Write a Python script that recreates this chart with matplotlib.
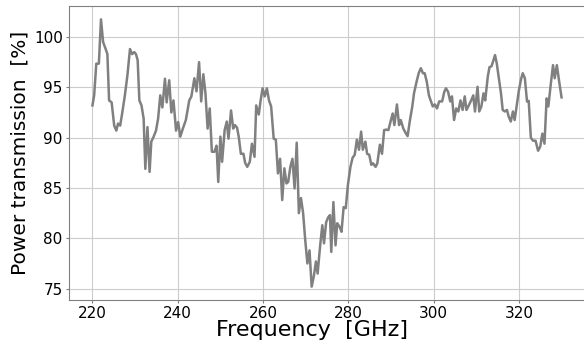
import matplotlib
matplotlib.use("Agg")
import matplotlib.pyplot as plt

# frequency [GHz] and transmission [%]
freq = [220.0, 220.4, 220.9, 221.5, 222.0, 222.5, 223.1, 223.5, 223.9, 224.5,
        225.1, 225.6, 226.0, 226.5, 227.0, 227.6, 228.2, 228.8, 229.3, 229.8,
        230.2, 230.6, 231.0, 231.5, 232.0, 232.4, 232.9, 233.4, 233.8, 234.3,
        234.9, 235.4, 235.9, 236.4, 237.0, 237.4, 238.0, 238.5, 239.0, 239.6,
        240.1, 240.6, 241.2, 241.9, 242.7, 243.2, 243.9, 244.4, 245.0, 245.5,
        246.0, 246.5, 247.0, 247.5, 248.0, 248.6, 249.1, 249.5, 250.0, 250.4,
        251.0, 251.5, 251.9, 252.5, 253.0, 253.4, 253.9, 254.3, 254.8, 255.4,
        255.8, 256.3, 256.9, 257.4, 258.0, 258.4, 259.0, 259.4, 259.9, 260.4,
        260.9, 261.4, 261.9, 262.5, 263.0, 263.5, 264.0, 264.5, 265.0, 265.5,
        265.9, 266.4, 266.9, 267.4, 267.9, 268.4, 268.9, 269.4, 269.9, 270.4,
        270.9, 271.4, 271.9, 272.4, 272.8, 273.4, 273.9, 274.3, 274.8, 275.3,
        275.7, 276.0, 276.5, 277.0, 277.4, 278.0, 278.4, 278.9, 279.4, 279.9,
        280.5, 281.0, 281.5, 282.0, 282.5, 283.0, 283.4, 284.0, 284.4, 284.9,
        285.4, 285.8, 286.4, 286.8, 287.4, 287.9, 288.4, 288.9, 289.4, 289.9,
        290.4, 290.8, 291.4, 291.9, 292.3, 292.9, 293.4, 293.9, 294.4, 295.0,
        295.4, 296.0, 296.5, 297.0, 297.5, 297.9, 298.4, 298.9, 299.3, 299.8,
        300.3, 300.8, 301.3, 302.0, 302.5, 302.9, 303.4, 303.9, 304.3, 304.8,
        305.3, 305.8, 306.3, 306.8, 307.3, 307.7, 308.3, 308.8, 309.3, 309.7,
        310.3, 310.7, 311.2, 311.7, 312.1, 312.7, 313.1, 313.6, 314.4, 314.8,
        315.3, 315.8, 316.2, 316.7, 317.2, 317.6, 318.1, 318.6, 319.0, 319.5,
        320.0, 320.5, 320.9, 321.4, 321.9, 322.3, 322.8, 323.3, 323.9, 324.5,
        325.0, 325.5, 326.0, 326.5, 326.9, 327.5, 328.0, 328.4, 328.9, 329.4,
        330.0]
trans = [93.2, 94.2, 97.35, 97.35, 101.75, 99.5, 98.8, 98.3, 93.7, 93.5,
         91.2, 90.7, 91.4, 91.2, 92.5, 94.2, 96.2, 98.8, 98.3, 98.5,
         98.3, 97.7, 93.7, 93.2, 91.9, 86.9, 91.05, 86.6, 89.6, 90.05,
         90.7, 91.9, 94.2, 93.0, 95.85, 93.5, 95.7, 92.5, 93.7, 90.7,
         91.55, 90.1, 90.9, 91.75, 93.7, 94.1, 95.9, 94.6, 97.5, 93.6,
         96.3, 94.4, 90.9, 92.9, 88.6, 88.6, 89.2, 85.6, 90.1, 87.6,
         90.75, 91.6, 89.9, 92.7, 90.9, 91.25, 91.0, 90.1, 88.4, 88.4,
         87.5, 87.1, 87.6, 89.4, 88.1, 93.2, 92.3, 93.6, 94.9, 94.1,
         94.9, 93.7, 93.1, 89.9, 89.8, 86.45, 87.9, 83.8, 86.95, 85.45,
         85.6, 87.1, 87.9, 84.95, 89.5, 82.5, 84.0, 82.5, 79.8, 77.5,
         78.8, 75.2, 76.2, 77.7, 76.5, 79.3, 81.3, 79.5, 81.6, 82.1,
         82.3, 78.65, 83.6, 79.3, 81.5, 81.1, 80.65, 83.1, 83.0, 85.3,
         87.1, 88.0, 88.3, 89.8, 88.8, 90.6, 88.8, 89.6, 88.4, 88.3,
         87.3, 87.45, 87.1, 87.45, 89.3, 88.4, 90.75, 90.8, 90.75, 91.6,
         92.4, 91.25, 93.3, 91.25, 91.75, 90.9, 90.5, 90.15, 91.6, 93.1,
         94.4, 95.55, 96.4, 96.9, 96.4, 96.4, 95.55, 94.2, 93.7, 93.1,
         93.3, 92.9, 93.6, 93.6, 94.55, 94.9, 94.55, 93.6, 94.1, 91.75,
         92.9, 92.6, 93.7, 92.75, 94.1, 92.75, 93.25, 93.7, 94.2, 92.6,
         95.05, 92.6, 93.1, 94.4, 93.7, 96.05, 97.0, 97.1, 98.2, 97.4,
         95.9, 94.4, 92.75, 92.6, 92.75, 92.1, 91.6, 92.6, 91.75, 93.25,
         94.7, 95.8, 96.4, 95.9, 93.6, 93.65, 90.0, 89.7, 89.7, 88.7,
         89.1, 90.4, 89.4, 93.9, 93.1, 95.4, 97.2, 95.9, 97.2, 95.7,
         94.0]

fig = plt.figure(figsize=(5.84, 3.43), dpi=100)
ax = fig.add_axes([69 / 584, 43 / 343, 516 / 584, 294 / 343])

ax.plot(freq, trans, color="gray", lw=1.8)

ax.set_xticks([220, 240, 260, 280, 300, 320])
ax.set_yticks([75, 80, 85, 90, 95, 100])
ax.grid(True, color="#cccccc", lw=0.8)
ax.set_axisbelow(True)

for s in ax.spines.values():
    s.set_color("gray")
ax.spines["right"].set_visible(False)
ax.tick_params(colors="gray", labelcolor="black", labelsize=11, length=2.5, pad=2)

ax.set_xlabel("Frequency  [GHz]", fontsize=16)
ax.xaxis.set_label_coords(0.471, -0.068)
ax.set_ylabel("Power transmission  [%]", fontsize=14.5, labelpad=3)

fig.savefig("out.png", dpi=100)
